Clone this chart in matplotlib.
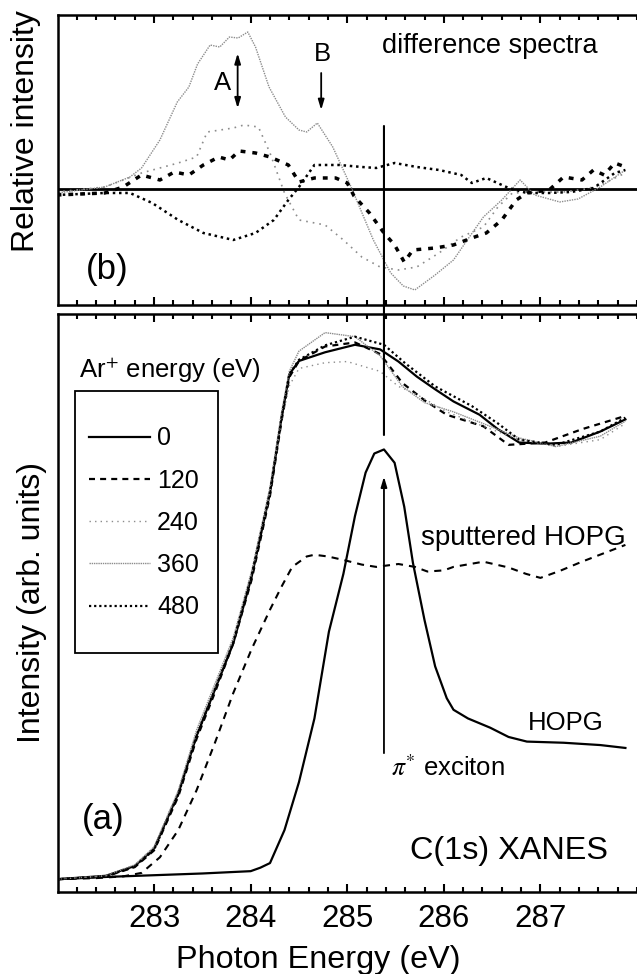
import numpy as np
import matplotlib
matplotlib.use("Agg")
import matplotlib.pyplot as plt
from matplotlib.patches import Rectangle, ConnectionPatch

plt.rcParams['font.family'] = ['Liberation Sans', 'DejaVu Sans']
plt.rcParams['mathtext.fontset'] = 'stix'

# ---- C(1s) XANES spectra (arb. units) ----
hopg_e = [281.99, 282.5, 283.0, 283.5, 284.0, 284.1, 284.2, 284.35, 284.5, 284.66, 284.7,
          284.81, 284.96, 285.08, 285.19, 285.28, 285.38, 285.49, 285.59, 285.68, 285.8,
          285.91, 286.03, 286.1, 286.25, 286.48, 286.67, 286.86, 287.24, 287.62, 287.88]
hopg_i = [0.022, 0.026, 0.029, 0.032, 0.036, 0.042, 0.05, 0.107, 0.19, 0.30, 0.34,
          0.45, 0.55, 0.65, 0.725, 0.758, 0.765, 0.742, 0.666, 0.569, 0.47,
          0.39, 0.335, 0.315, 0.30, 0.284, 0.268, 0.26, 0.258, 0.254, 0.249]

sput_e = [281.99, 282.4, 282.68, 282.87, 283.06, 283.25, 283.44, 283.63, 283.82, 284.01,
          284.2, 284.32, 284.43, 284.58, 284.66, 284.8, 284.96, 285.15, 285.3, 285.53,
          285.7, 285.83, 286.0, 286.1, 286.41, 286.67, 286.85, 287.0, 287.2, 287.43, 287.88]
sput_i = [0.022, 0.024, 0.027, 0.033, 0.06, 0.107, 0.176, 0.258, 0.344, 0.42,
          0.488, 0.528, 0.562, 0.58, 0.583, 0.58, 0.574, 0.566, 0.562, 0.567,
          0.562, 0.554, 0.556, 0.562, 0.571, 0.561, 0.55, 0.543, 0.555, 0.571, 0.6]

# sputtered samples, Ar+ energy in eV
ar_energy = ['0', '120', '240', '360', '480']

e_0 = [281.99, 282.5, 282.8, 283.0, 283.25, 283.44, 283.63, 283.82, 284.01, 284.2, 284.32,
       284.4, 284.5, 284.77, 285.08, 285.34, 285.53, 285.72, 285.91, 286.1, 286.37, 286.56,
       286.78, 287.05, 287.32, 287.62, 287.88]
i_0 = [0.022, 0.028, 0.045, 0.075, 0.17, 0.27, 0.35, 0.43, 0.545, 0.69, 0.82,
       0.895, 0.918, 0.933, 0.946, 0.938, 0.917, 0.891, 0.869, 0.848, 0.825, 0.80,
       0.777, 0.775, 0.777, 0.796, 0.817]

e_120 = [281.99, 282.5, 282.8, 283.0, 283.25, 283.44, 283.63, 283.82, 284.01, 284.2, 284.32,
         284.4, 284.5, 284.77, 285.08, 285.34, 285.57, 285.8, 286.03, 286.41, 286.67,
         287.05, 287.43, 287.88]
i_120 = [0.022, 0.027, 0.043, 0.072, 0.165, 0.265, 0.345, 0.43, 0.54, 0.685, 0.815,
         0.89, 0.918, 0.943, 0.95, 0.93, 0.88, 0.85, 0.825, 0.805, 0.773,
         0.777, 0.80, 0.823]

e_240 = [281.99, 282.5, 282.8, 283.0, 283.25, 283.44, 283.63, 283.82, 284.01, 284.2, 284.32,
         284.4, 284.5, 284.77, 285.0, 285.34, 285.53, 285.72, 286.03, 286.41, 286.78,
         287.16, 287.62, 287.88]
i_240 = [0.022, 0.028, 0.046, 0.077, 0.175, 0.275, 0.355, 0.435, 0.55, 0.69, 0.815,
         0.875, 0.905, 0.915, 0.917, 0.9, 0.874, 0.86, 0.83, 0.805, 0.782,
         0.77, 0.782, 0.81]

e_360 = [281.99, 282.5, 282.8, 283.0, 283.25, 283.44, 283.63, 283.82, 284.01, 284.2, 284.32,
         284.4, 284.5, 284.77, 285.08, 285.34, 285.57, 285.8, 286.1, 286.48, 286.78,
         287.16, 287.62, 287.88]
i_360 = [0.022, 0.028, 0.047, 0.078, 0.175, 0.28, 0.36, 0.44, 0.555, 0.70, 0.83,
         0.90, 0.935, 0.967, 0.96, 0.927, 0.874, 0.846, 0.83, 0.805, 0.785,
         0.77, 0.788, 0.814]

e_480 = [281.99, 282.5, 282.8, 283.0, 283.25, 283.44, 283.63, 283.82, 284.01, 284.2, 284.32,
         284.4, 284.5, 284.77, 285.08, 285.38, 285.6, 285.91, 286.29, 286.56, 286.78,
         287.16, 287.62, 287.88]
i_480 = [0.022, 0.027, 0.044, 0.073, 0.168, 0.27, 0.35, 0.432, 0.548, 0.692, 0.82,
         0.895, 0.92, 0.945, 0.96, 0.946, 0.914, 0.874, 0.84, 0.81, 0.782,
         0.773, 0.796, 0.82]

# ---- difference spectra (sputtered - clean) ----
d120_e = [281.99, 282.49, 282.68, 282.87, 283.06, 283.21, 283.36, 283.51, 283.67, 283.78,
          283.88, 284.05, 284.2, 284.39, 284.5, 284.66, 284.88, 285.0, 285.07, 285.23,
          285.38, 285.49, 285.59, 285.68, 285.91, 286.1, 286.29, 286.44, 286.6, 286.75,
          286.86, 287.09, 287.24, 287.43, 287.55, 287.66, 287.77, 287.88]
d120 = [-0.06, -0.04, 0.02, 0.14, 0.09, 0.17, 0.14, 0.24, 0.32, 0.29,
        0.38, 0.36, 0.32, 0.24, 0.07, 0.11, 0.11, 0.06, -0.07, -0.24,
        -0.44, -0.56, -0.73, -0.61, -0.59, -0.56, -0.49, -0.44, -0.31, -0.11,
        -0.04, -0.01, 0.12, 0.09, 0.19, 0.14, 0.26, 0.22]

d240_e = [281.99, 282.49, 282.87, 283.25, 283.44, 283.55, 283.82, 283.93, 284.08, 284.2,
          284.35, 284.5, 284.77, 284.96, 285.15, 285.34, 285.53, 285.72, 285.95, 286.18,
          286.41, 286.56, 286.71, 286.98, 287.24, 287.47, 287.62, 287.88]
d240 = [-0.03, 0.02, 0.16, 0.26, 0.32, 0.57, 0.61, 0.64, 0.62, 0.36,
        -0.04, -0.31, -0.36, -0.51, -0.68, -0.78, -0.81, -0.78, -0.64, -0.48,
        -0.38, -0.18, -0.04, -0.03, -0.03, 0.0, 0.04, 0.16]

d360_e = [281.99, 282.49, 282.75, 282.87, 283.06, 283.24, 283.36, 283.45, 283.58, 283.68,
          283.78, 283.87, 283.97, 284.05, 284.19, 284.36, 284.5, 284.58, 284.69, 284.85,
          285.04, 285.27, 285.45, 285.58, 285.7, 285.91, 286.1, 286.25, 286.41, 286.6,
          286.79, 286.94, 287.2, 287.39, 287.62, 287.88]
d360 = [-0.04, 0.02, 0.12, 0.21, 0.49, 0.87, 1.02, 1.25, 1.44, 1.42,
        1.52, 1.51, 1.57, 1.42, 1.02, 0.72, 0.59, 0.57, 0.66, 0.42,
        0.02, -0.51, -0.84, -0.97, -1.01, -0.86, -0.71, -0.5, -0.28, -0.11,
        0.09, -0.06, -0.13, -0.1, 0.02, 0.19]

d480_e = [281.99, 282.49, 282.75, 282.98, 283.25, 283.51, 283.82, 284.05, 284.24, 284.39,
          284.5, 284.66, 284.92, 285.15, 285.3, 285.49, 285.72, 285.95, 286.18, 286.29,
          286.44, 286.67, 286.86, 287.09, 287.32, 287.55, 287.77, 287.88]
d480 = [-0.06, -0.04, -0.04, -0.14, -0.31, -0.44, -0.51, -0.44, -0.31, -0.11,
        0.02, 0.24, 0.24, 0.22, 0.21, 0.26, 0.22, 0.19, 0.14, 0.06,
        0.11, 0.01, -0.04, -0.04, -0.03, 0.01, 0.16, 0.19]

e_exciton = 285.38
e_peak_a = 283.865
e_peak_b = 284.73

# line styles per Ar+ energy
styles = {
    '0':   dict(color='black', lw=1.6, ls='-'),
    '120': dict(color='black', lw=1.6, ls=(0, (2.7, 2.3))),
    '240': dict(color='#8c8c8c', lw=1.0, ls=(0, (1, 3))),
    '360': dict(color='#8c8c8c', lw=1.0, ls=(0, (1, 0.6))),
    '480': dict(color='black', lw=1.6, ls=(0, (1, 1.3))),
}

fig = plt.figure(figsize=(6.37, 9.74), dpi=100)
ax_b = fig.add_axes([0.0903, 0.6869, 0.9097, 0.2982])
ax_a = fig.add_axes([0.0903, 0.0842, 0.9097, 0.5939])

xmin, xmax = 282.0, 287.886
for ax in (ax_b, ax_a):
    ax.set_xlim(xmin, xmax)
    ax.spines['right'].set_visible(False)
    for s in ('left', 'top', 'bottom'):
        ax.spines[s].set_linewidth(1.8)
    ax.set_xticks([283, 284, 285, 286, 287])
    ax.set_xticks(np.arange(282.2, 288.0, 0.2), minor=True)
    ax.tick_params(axis='x', which='both', direction='in', top=True, bottom=True, width=1.5)
    ax.tick_params(axis='x', which='major', length=6)
    ax.tick_params(axis='x', which='minor', length=3.3)
    ax.set_yticks([])

# ---- (b) difference spectra ----
ax_b.set_ylim(-1.16, 1.745)
ax_b.tick_params(axis='x', labelbottom=False)
ax_b.axhline(0, color='black', lw=2.0)
ax_b.plot(d240_e, d240, color='#8c8c8c', lw=1.2, ls=(0, (1, 3)))
ax_b.plot(d360_e, d360, color='#8c8c8c', lw=1.0, ls=(0, (1, 0.8)))
ax_b.plot(d480_e, d480, color='black', lw=1.8, ls=(0, (1, 1.5)))
ax_b.plot(d120_e, d120, color='black', lw=2.5, ls=(0, (1.4, 2.0)))

arrow_kw = dict(color='black', lw=1.3, shrinkA=0, shrinkB=0)
ax_b.annotate('', xy=(e_peak_a, 1.357), xytext=(e_peak_a, 0.807),
              arrowprops=dict(arrowstyle='<|-|>,head_length=0.6,head_width=0.18', **arrow_kw))
ax_b.annotate('', xy=(e_peak_b, 0.79), xytext=(e_peak_b, 1.16),
              arrowprops=dict(arrowstyle='-|>,head_length=0.6,head_width=0.18', **arrow_kw))
ax_b.text(283.705, 1.065, 'A', fontsize=18.5, ha='center', va='center')
ax_b.text(284.74, 1.35, 'B', fontsize=18.5, ha='center', va='center')
ax_b.text(285.36, 1.43, 'difference spectra', fontsize=19.5, ha='left', va='center')
ax_b.text(282.295, -0.81, '(b)', fontsize=25, ha='left', va='center')

# ---- (a) XANES spectra ----
ax_a.set_ylim(0, 1.0)
ax_a.tick_params(axis='x', which='major', labelsize=22.5, pad=9)
ax_a.plot(sput_e, sput_i, color='black', lw=1.5, ls=(0, (3.4, 2.9)))
ax_a.plot(hopg_e, hopg_i, color='black', lw=1.6)
handles = []
for lab, e, i in [('0', e_0, i_0), ('120', e_120, i_120), ('240', e_240, i_240),
                  ('360', e_360, i_360), ('480', e_480, i_480)]:
    st = styles[lab]
    h, = ax_a.plot(e, i, color=st['color'], lw=st['lw'], ls=st['ls'], label=lab)
    handles.append(h)

ax_a.annotate('', xy=(e_exciton, 0.718), xytext=(e_exciton, 0.24),
              arrowprops=dict(arrowstyle='-|>,head_length=0.6,head_width=0.18', **arrow_kw))
ax_a.text(285.455, 0.2145, r'$\pi^{*}$ exciton', fontsize=18.5, ha='left', va='center')
ax_a.text(286.866, 0.292, 'HOPG', fontsize=18.5, ha='left', va='center')
ax_a.text(285.76, 0.612, 'sputtered HOPG', fontsize=20, ha='left', va='center')
ax_a.text(285.65, 0.071, 'C(1s) XANES', fontsize=23.3, ha='left', va='center')
ax_a.text(282.257, 0.1246, '(a)', fontsize=25, ha='left', va='center')
ax_a.text(282.22, 0.901, r'Ar$^{+}$ energy (eV)', fontsize=18.5, ha='left', va='center')

ax_a.add_patch(Rectangle((0.0302, 0.4135), 0.2462, 0.4525, transform=ax_a.transAxes,
                         fill=False, edgecolor='black', lw=1.3))
ax_a.legend(handles=handles, loc='center left', bbox_to_anchor=(0.0544, 0.638),
            frameon=False, fontsize=18, handlelength=2.44, handletextpad=0.28,
            labelspacing=0.73, borderpad=0, borderaxespad=0)

# line marking the exciton position through both panels
fig.add_artist(ConnectionPatch(xyA=(e_exciton, 0.63), coordsA=ax_b.transData,
                               xyB=(e_exciton, 0.79), coordsB=ax_a.transData,
                               color='black', lw=1.5))

fig.text(0.0408, 0.9897, 'Relative intensity', rotation=90, fontsize=23,
         ha='center', va='top')
fig.text(0.0502, 0.2372, 'Intensity (arb. units)', rotation=90, fontsize=23,
         ha='center', va='bottom')
fig.text(0.5, 0.0144, 'Photon Energy (eV)', fontsize=23.3, ha='center', va='center')

fig.savefig('out.png', dpi=100)
